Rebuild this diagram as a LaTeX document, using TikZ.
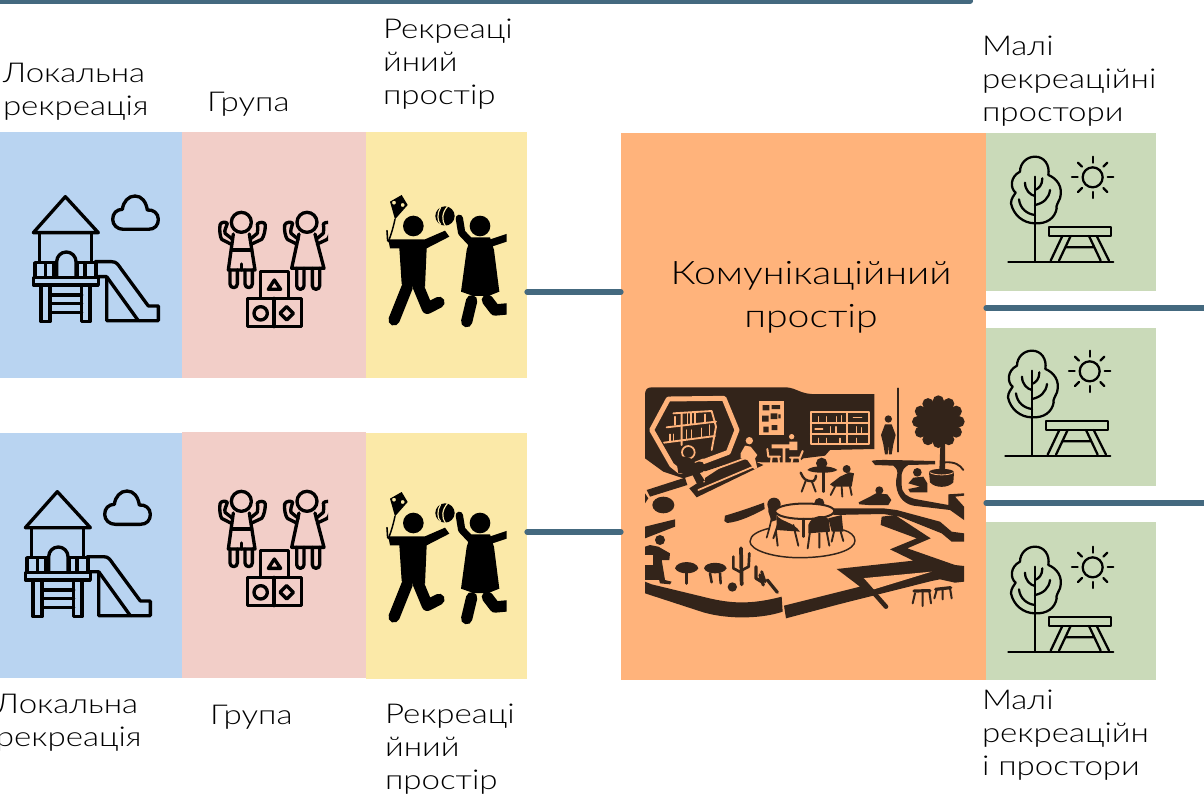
\documentclass[tikz,border=0pt]{standalone}
\usepackage{fontspec}
\setmainfont{Lato Light}[FakeStretch=1.21]
\definecolor{cblue}{HTML}{B9D4F1}
\definecolor{cpink}{HTML}{F2CEC8}
\definecolor{cyel}{HTML}{FBE9A8}
\definecolor{corg}{HTML}{FFB37B}
\definecolor{cgrn}{HTML}{CADAB9}
\definecolor{cline}{HTML}{44697F}
\definecolor{cdk}{HTML}{33241A}
\tikzset{
  panel/.style={rectangle,inner sep=0pt,outer sep=0pt,draw=none},
  lab/.style={inner sep=0pt,outer sep=0pt,anchor=north west,align=left,font=\fontsize{20.5}{24.9}\selectfont,text=black},
  conn/.style={draw=cline,line width=3.9pt,line cap=round},
  icon/.style={x=.25pt,y=-.25pt,line width=2.5pt,line cap=round,line join=round},
  playground/.pic={\begin{scope}[icon]
    \draw (196,80) -- (100,188) -- (295,188) -- cycle;
    \draw (118,188) -- (118,275) (275,188) -- (275,275);
    \draw (105,278) rectangle (288,322);
    \draw (137,278) -- (137,322) (160,278)--(160,322) (232,278)--(232,322) (255,278)--(255,322);
    \fill[cblue] (170,322) -- (170,275) arc (180:360:29) -- (228,322) -- cycle;
    \draw (170,322) -- (170,275) arc (180:360:29) -- (228,322);
    \draw (100,322) rectangle (295,345);
    \draw (123,345) -- (123,455) -- (150,455) -- (150,345);
    \draw (245,345) -- (245,455) -- (270,455) -- (270,345);
    \draw (150,375) -- (245,375) (150,400)--(245,400) (150,428)--(245,428);
    \draw (285,275) -- (335,275) .. controls (350,275) and (355,285) .. (362,295) -- (445,408) -- (475,408) -- (475,452) -- (320,452) -- (320,320) -- (295,320);
    \draw (320,320) -- (415,452);
    \draw (370,178) -- (445,178) .. controls (465,178) and (475,165) .. (475,148) .. controls (475,130) and (460,118) .. (442,120) .. controls (438,95) and (425,78) .. (405,78) .. controls (385,78) and (370,95) .. (367,118) .. controls (350,118) and (338,130) .. (338,148) .. controls (338,165) and (352,178) .. (370,178) -- cycle;
  \end{scope}},
  kidsplay/.pic={\begin{scope}[icon]
    \clip (640,100) rectangle (984,490);
    \draw (724,157) circle (30) (921,157) circle (30);
    \draw (698,208) -- (675,190) .. controls (672,180) and (680,170) .. (682,160) .. controls (678,155) and (662,155) .. (660,165) .. controls (658,180) and (660,200) .. (665,208) -- (692,222);
    \draw (750,208) -- (772,190) .. controls (776,180) and (772,170) .. (772,162) .. controls (778,155) and (795,155) .. (796,165) .. controls (796,180) and (792,200) .. (785,208) -- (755,222);
    \draw (700,192) -- (685,300) -- (765,300) -- (748,192);
    \draw (695,240) -- (755,240) (724,282) -- (724,300);
    \draw (690,300) -- (690,342) arc (180:0:11) -- (712,300);
    \draw (735,300) -- (735,342) arc (180:0:11) -- (757,300);
    \draw (895,208) -- (873,190) .. controls (870,180) and (876,170) .. (878,160) .. controls (874,155) and (858,155) .. (854,165) .. controls (852,180) and (856,200) .. (862,208) -- (890,222);
    \draw (948,208) -- (970,190) .. controls (974,180) and (970,170) .. (970,162) .. controls (976,155) and (992,155) .. (993,165) .. controls (993,180) and (990,200) .. (982,208) -- (952,222);
    \draw (897,192) -- (875,295) -- (972,295) -- (945,192);
    \draw (890,295) -- (890,347) arc (180:0:11) -- (912,295);
    \draw (937,295) -- (937,347) arc (180:0:11) -- (959,295);
    \draw (782,385) -- (782,305) -- (865,305) -- (865,385);
    \draw (742,385) rectangle (905,470) (822,385) -- (822,470);
    \draw (805,358) -- (823,330) -- (842,358) -- cycle;
    \draw (782,430) circle (20);
    \draw (860,410) -- (880,430) -- (860,450) -- (840,430) -- cycle;
  \end{scope}},
  childplay/.pic={\begin{scope}[x=.25pt,y=-.25pt,line cap=round,line join=round]
    \clip (30,30) rectangle (410,450);
    \fill[even odd rule] (60,65) -- (95,45) -- (113,75) -- (75,118) -- cycle (72,68) circle (6) (98,75) circle (6);
    \draw[line width=1.1pt] (75,118) .. controls (70,140) and (65,160) .. (55,185);
    \draw[line width=1.2pt] (51,152) -- (53,182);
    \fill (130,138) circle (31);
    \fill (55,178) -- (90,178) -- (165,178) -- (225,152) -- (238,170) -- (170,205) -- (165,320) -- (130,320) -- (110,320) -- (95,312) -- (88,205) -- (60,205) -- cycle;
    \draw[line width=8.5pt] (112,320) -- (72,420);
    \draw[line width=8.5pt] (145,320) -- (172,385) -- (207,367);
    \fill (225,108) circle (29);
    \draw[cyel,line width=.9pt] (212,82) .. controls (200,100) and (202,125) .. (212,133);
    \draw[cyel,line width=.9pt] (232,80) .. controls (215,100) and (215,122) .. (226,138);
    \fill (330,138) circle (31);
    \draw[line width=5.5pt] (268,115) -- (275,158) -- (305,190);
    \draw[line width=5.5pt] (360,190) -- (420,170);
    \fill (302,172) -- (360,172) -- (372,210) -- (388,335) -- (355,348) -- (310,348) -- (273,335) -- (290,210) -- cycle;
    \draw[line width=8.5pt] (305,362) -- (290,425);
    \draw[line width=8.5pt] (352,360) -- (375,390) -- (430,385);
  \end{scope}},
  picnic/.pic={\begin{scope}[icon,line width=1.7pt]
    \draw (70,365) -- (385,365);
    \draw (150,110) -- (150,365);
    \draw (120,128) .. controls (120,150) and (135,165) .. (150,168);
    \draw (172,115) .. controls (172,135) and (162,145) .. (150,150);
    \draw (102,178) .. controls (105,205) and (125,222) .. (150,225);
    \draw (195,150) .. controls (192,175) and (175,190) .. (150,195);
    \draw (150,250) .. controls (115,250) and (85,225) .. (78,190) .. controls (78,175) and (88,165) .. (92,158) .. controls (75,145) and (75,110) .. (105,95) .. controls (105,70) and (125,50) .. (150,50) .. controls (178,50) and (195,75) .. (190,105) .. controls (215,115) and (235,140) .. (225,175) .. controls (218,190) and (212,200) .. (215,205) .. controls (210,235) and (185,252) .. (150,250) -- cycle;
    \draw (192,260) rectangle (377,288);
    \draw (232,288) -- (197,362) (257,288) -- (222,362) (312,288) -- (347,362) (335,288) -- (372,362) (243,322) -- (325,322);
    \draw (323,112) circle (30);
    \draw (323,50) -- (323,68) (323,156) -- (323,174) (261,112) -- (278,112) (368,112) -- (385,112);
    \draw (279,68) -- (291,80) (367,68) -- (355,80) (279,156) -- (291,144) (367,156) -- (355,144);
  \end{scope}},
  commons/.pic={\begin{scope}[x=.25pt,y=-.25pt,line cap=round,line join=round,cdk]
    \fill (45,60) .. controls (45,45) and (50,37) .. (65,37) -- (470,37) .. controls (500,40) and (510,55) .. (545,57) -- (733,57) -- (733,222) -- (600,225) -- (585,242) -- (520,250) -- (505,262) -- (395,262) -- (330,255) -- (160,310) -- (100,290) -- (45,250) -- cycle;
    \draw[corg,line width=3.7pt] (115,72) -- (282,70) -- (321,165) -- (295,232) -- (215,262) -- (150,290) -- (125,270) -- (65,165) -- cycle;
    \draw[corg,line width=1.4pt] (130,115) -- (245,108) (110,157) -- (258,140) (102,203) -- (255,183) (245,108) -- (258,155) -- (245,225) (155,115) -- (155,210);
    \draw[corg,line width=1.1pt] (135,125)--(135,150) (172,115)--(172,150) (183,115)--(183,148) (195,115)--(195,148) (225,118)--(225,142) (120,178)--(120,200) (130,178)--(130,198) (170,165)--(170,192) (185,165)--(185,190) (215,160)--(215,185) (238,150)--(238,180);
    \fill (178,340) -- (330,240) -- (400,270) -- (200,367) -- cycle;
    \draw[corg,line width=1.3pt] (222,295) -- (345,250) (205,345) -- (370,275) (222,290) -- (222,320);
    \fill (50,345) -- (165,308) -- (172,330) -- (60,365) -- cycle;
    \draw[corg,line width=1.3pt,fill=cdk] (175,232) circle (19);
    \fill (140,262) .. controls (145,240) and (165,240) .. (190,255) -- (218,262) -- (225,275) -- (200,280) -- (225,318) -- (200,325) -- (185,295) -- (145,295) -- cycle;
    \draw[corg,line width=.8pt] (195,262) -- (220,252);
    \fill[corg] (358,197) circle (11) (345,212) -- (362,215) -- (382,240) -- (375,250) -- (382,280) -- (372,282) -- (352,255) -- (332,250) -- (332,235) -- cycle;
    \fill[corg] (387,78) rectangle (462,180);
    \fill (398,90) rectangle (418,106) (425,90) rectangle (450,102) (396,122) rectangle (416,140) (422,115) rectangle (442,132) (445,118) rectangle (452,130) (400,155) rectangle (416,172) (425,150) rectangle (442,165);
    \draw[corg,line width=1.3pt] (542,111) rectangle (716,208) (650,111) -- (650,208) (542,143) -- (716,143) (542,177) -- (716,177);
    \draw[corg,line width=1pt] (565,125)--(565,143) (590,125)--(590,143) (620,125)--(620,143) (635,122)--(635,143) (670,128)--(695,128) (555,162)--(578,162) (602,155)--(602,177) (618,155)--(618,177) (680,155)--(680,177) (695,158)--(695,177) (565,190)--(565,208) (590,190)--(590,208) (630,190)--(630,208) (680,190)--(680,208);
    \fill[corg] (485,185) circle (8) (425,208) rectangle (498,220) (458,220) rectangle (466,272) (478,200) rectangle (502,225);
    \draw[corg,line width=1.5pt] (412,222) -- (415,245) -- (450,245) (425,245)--(422,272) (445,245)--(448,272) (518,228)--(510,248)--(480,248) (488,248)--(482,275) (508,248)--(514,275);
    \fill (775,132) circle (11) (765,148) -- (785,148) -- (797,180) -- (790,208) -- (785,238) -- (777,238) -- (775,210) -- (773,238) -- (765,238) -- (760,208) -- (753,180) -- cycle;
    \draw[line width=1.2pt] (804,40) -- (804,230);
    \fill (925,140) circle (63);
    \foreach \a in {0,30,...,330} \fill (925,140) ++(\a:62) circle (17);
    \fill (932,190) -- (945,190) -- (945,285) -- (928,285) -- cycle;
    \fill (897,292) .. controls (897,278) and (972,278) .. (972,292) -- (970,322) .. controls (955,340) and (915,340) .. (900,322) -- cycle;
    \draw[corg,line width=.6pt] (900,293) .. controls (915,302) and (955,302) .. (970,293);
    \fill (725,258) .. controls (735,253) and (780,255) .. (915,258) -- (915,268) -- (835,270) .. controls (810,285) and (815,300) .. (815,330) .. controls (815,355) and (830,365) .. (855,372) -- (955,390) -- (955,358) -- (1002,355) -- (1002,362) -- (975,365) -- (1002,395) -- (1002,435) -- (960,405) -- (850,392) .. controls (815,385) and (798,355) .. (798,320) .. controls (800,295) and (810,290) .. (790,272) -- (735,270) -- cycle;
    \draw[line width=1.4pt] (945,262) .. controls (975,260) and (990,270) .. (1000,285);
    \fill (862,292) circle (13) (850,308) -- (880,305) -- (892,325) -- (892,352) -- (840,352) -- (835,342) -- (870,335) -- (835,325) -- cycle;
    \fill (575,265) circle (17);
    \fill (532,285) .. controls (545,270) and (605,270) .. (622,285) .. controls (610,296) and (545,296) .. (532,285) -- cycle;
    \draw[line width=1.9pt] (580,290) -- (580,350);
    \draw[line width=1.8pt] (512,293) .. controls (520,310) and (525,320) .. (550,318) .. controls (555,315) and (558,310) .. (558,302);
    \draw[line width=1.4pt] (527,318) -- (515,350) (545,318) -- (557,350);
    \fill (650,282) circle (12) (630,305) -- (658,292) -- (672,295) -- (665,335) -- (610,335) -- (600,328) -- cycle;
    \draw[line width=1.4pt] (615,335) -- (602,360) (660,335) -- (665,360) (635,335) -- (637,365);
    \fill (748,346) circle (12) (738,355) -- (772,358) -- (784,375) -- (775,390) -- (715,390) -- (688,388) -- (686,382) -- (720,365) -- cycle;
    \fill (432,388) circle (20) (568,384) circle (15);
    \fill (415,385) -- (450,385) -- (440,420) -- (440,435) -- (425,440) -- (415,410) -- cycle;
    \draw[line width=1.5pt,fill=corg] (435,408) .. controls (445,378) and (610,378) .. (613,408) .. controls (610,440) and (440,440) .. (435,408) -- cycle;
    \draw[line width=1.8pt] (520,432) -- (520,485);
    \draw[line width=1.4pt] (445,445) -- (430,490) (490,450) -- (505,512) (438,470) -- (443,512);
    \fill (440,420) .. controls (450,440) and (490,440) .. (510,470) -- (440,465) -- cycle;
    \fill (535,450) .. controls (545,420) and (585,415) .. (597,435) -- (600,470) -- (535,475) -- cycle;
    \fill (595,430) -- (635,420) -- (640,470) -- (605,470) -- cycle;
    \draw[line width=1.4pt] (540,470) -- (533,520) (568,475) -- (568,518) (590,470) -- (598,512) (612,470) -- (605,500) (632,470) -- (640,498);
    \draw[line width=1.2pt] (410,488) -- (418,460) -- (425,430);
    \draw[line width=1.1pt] (417,460) .. controls (385,468) and (360,480) .. (360,500) .. controls (360,525) and (430,550) .. (520,548) .. controls (610,546) and (675,525) .. (675,497) .. controls (675,482) and (660,470) .. (640,465);
    \fill (285,422) .. controls (320,412) and (370,395) .. (402,383) -- (404,402) .. controls (370,420) and (330,440) .. (292,444) -- (283,438) -- cycle;
    \fill (610,400) -- (760,400) -- (800,405) -- (930,440) -- (965,470) -- (1002,475) -- (1002,500) -- (965,500) -- (935,475) -- (810,425) -- (760,417) -- (610,420) -- cycle;
    \fill (755,425) -- (795,420) -- (902,490) -- (832,520) -- (975,570) -- (1002,573) -- (1002,620) -- (975,623) -- (930,613) -- (905,618) -- (630,687) -- (468,730) -- (462,692) -- (690,635) -- (620,582) -- (850,557) -- (780,523) -- (860,490) -- (752,450) -- cycle;
    \fill[corg] (695,610) -- (905,590) -- (725,645) -- cycle;
    \draw[line width=3.4pt] (697,615) -- (768,695);
    \fill (45,620) -- (65,628) -- (230,668) .. controls (300,685) and (360,690) .. (455,665) -- (458,710) .. controls (400,730) and (300,735) .. (220,712) -- (45,655) -- cycle;
    \fill (100,390) ellipse (33 and 25);
    \fill (45,355) -- (55,370) -- (45,385) -- cycle;
    \fill (45,455) -- (135,433) -- (135,455) -- (45,490) -- cycle;
    \fill (90,495) circle (15) (60,510) -- (85,515) -- (120,535) -- (118,555) -- (95,555) -- (105,615) -- (125,620) -- (120,628) -- (90,625) -- (80,585) -- (45,585) -- (45,515) -- cycle;
    \fill[corg] (45,570) rectangle (70,540);
    \fill (45,585) rectangle (88,615);
    \fill (135,580) .. controls (140,555) and (200,555) .. (205,580) .. controls (195,600) and (145,600) .. (135,580) -- cycle;
    \draw[line width=2.2pt] (169,590) -- (169,625);
    \fill (222,580) .. controls (225,558) and (285,558) .. (290,580) .. controls (280,600) and (230,600) .. (222,580) -- cycle;
    \draw[line width=1.9pt] (240,595) -- (245,622) (270,595) -- (272,625);
    \draw[line width=2.8pt] (333,520) -- (335,628);
    \draw[line width=2pt] (310,545) -- (310,580) -- (333,592) (358,535) -- (356,575) -- (337,585);
    \fill (307,636) circle (14);
    \draw[line width=2.4pt] (390,600) -- (400,630) (378,575) -- (378,610) -- (398,622) (412,615) -- (442,652);
    \draw[line width=2.2pt] (395,590) -- (405,620);
    \draw[line width=2.4pt] (852,648) -- (900,647);
    \draw[line width=1.5pt] (855,655) -- (848,685) (878,650) -- (878,693) (898,650) -- (903,685);
    \draw[line width=2.4pt] (917,643) -- (962,638);
    \draw[line width=1.5pt] (920,645) -- (913,670) (938,643) -- (938,673) (960,640) -- (965,670);
  \end{scope}}
}
\newcommand\panelbox[6]{\node[panel,fill=#2,minimum width={(#5-#3)*.75pt},minimum height={(#6-#4)*.75pt}] (#1) at ({(#3+#5)/2},{(#4+#6)/2}) {};}
\begin{document}
\begin{tikzpicture}[x=.75pt,y=-.75pt]
\useasboundingbox (0,0) rectangle (1204,795);
\fill[white] (0,0) rectangle (1204,795);
\panelbox{kom}{corg}{621}{133}{986}{680}
\panelbox{b1}{cblue}{0}{132}{182}{378}
\panelbox{p1}{cpink}{182}{132}{366}{378}
\panelbox{y1}{cyel}{366}{132}{527}{378}
\panelbox{b2}{cblue}{0}{433}{182}{678}
\panelbox{p2}{cpink}{182}{432}{366}{678}
\panelbox{y2}{cyel}{366}{433}{527}{679}
\panelbox{g1}{cgrn}{986}{133}{1156}{291}
\panelbox{g2}{cgrn}{986}{328}{1156}{486}
\panelbox{g3}{cgrn}{986}{522}{1156}{680}
\coordinate (topL) at (-4,1);
\coordinate (topR) at (970,1);
\coordinate (rightA) at (1210,308);
\coordinate (rightB) at (1210,503);
\coordinate (midA) at (574,292);
\coordinate (midB) at (574,532);
\draw[conn,line width=4.6pt] (topL) -- (topR);
\draw[conn] (y1.east |- midA) -- (kom.west |- midA);
\draw[conn] (y2.east |- midB) -- (kom.west |- midB);
\draw[conn] (kom.east |- rightA) -- (rightA);
\draw[conn] (kom.east |- rightB) -- (rightB);
\pic at (0,170) {playground};
\pic at (-8,465) {playground};
\pic at (0,170) {kidsplay};
\pic at (0,449) {kidsplay};
\pic at (370,180) {childplay};
\pic at (370,477) {childplay};
\pic at (985,140) {picnic};
\pic at (982,334) {picnic};
\pic at (985,530) {picnic};
\pic at (630,375) {commons};
\node[lab] (t1) at (3,63) {Локальна\\рекреація};
\node[lab] (t2) at (207,92) {Група};
\node[lab] (t3) at (383,19) {Рекреаці\\йний\\простір};
\node[lab] (t4) at (982,36) {Малі\\рекреаційні\\простори};
\node[lab] (t5) at (-4,694) {Локальна\\рекреація};
\node[lab] (t6) at (210,705) {Група};
\node[lab] (t7) at (385,704) {Рекреаці\\йний\\простір};
\node[lab] (t8) at (982,690) {Малі\\рекреаційн\\і простори};
\node[lab,anchor=center,align=center,font=\fontsize{24.3}{32}\selectfont] (t9) at (811,297) {Комунікаційний\\простір};
\end{tikzpicture}
\end{document}
